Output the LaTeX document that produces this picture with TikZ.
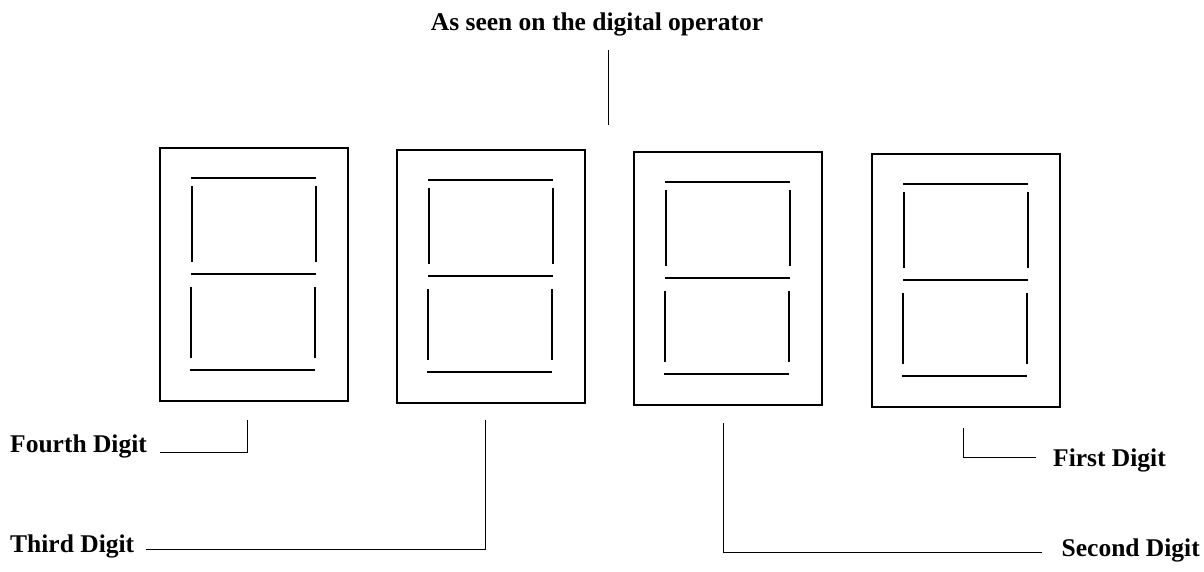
\documentclass[tikz,border=0pt]{standalone}
\usepackage{fontspec}
\setmainfont{Liberation Serif}
\begin{document}
\begin{tikzpicture}[x=1pt,y=-1pt,
  digitbox/.style={draw, line width=1.8pt, minimum width=188pt, minimum height=253pt, inner sep=0pt, anchor=north west},
  seg/.style={line width=1.4pt},
  conn/.style={line width=1pt},
  lbl/.style={font=\fontsize{25.5}{30}\selectfont\bfseries, inner sep=0pt}]
\useasboundingbox (0,0) rectangle (1204,571);
\newcommand\sevenseg[3]{%
  \node[digitbox] (#1) at (#2,#3) {};
  \draw[seg] ([shift={(32,31)}]#1.north west) -- ([shift={(-33,31)}]#1.north east);
  \draw[seg] ([shift={(32,127)}]#1.north west) -- ([shift={(-33,127)}]#1.north east);
  \draw[seg] ([shift={(31,223)}]#1.north west) -- ([shift={(-34,223)}]#1.north east);
  \draw[seg] ([shift={(33,39)}]#1.north west) -- ([shift={(33,115)}]#1.north west);
  \draw[seg] ([shift={(-33,39)}]#1.north east) -- ([shift={(-33,115)}]#1.north east);
  \draw[seg] ([shift={(32,140)}]#1.north west) -- ([shift={(32,211)}]#1.north west);
  \draw[seg] ([shift={(-34,140)}]#1.north east) -- ([shift={(-34,211)}]#1.north east);
}
\sevenseg{d4}{159}{147}
\sevenseg{d3}{396}{149}
\sevenseg{d2}{633}{151}
\sevenseg{d1}{871}{153}

\node[lbl, anchor=base] (top) at (597,30) {As seen on the digital operator};
\coordinate (topA) at (608,50);
\coordinate (topB) at (608,125);
\draw[conn] (topA) -- (topB);

\node[lbl, anchor=base west] (l4) at (10,452) {Fourth Digit};
\coordinate (c4a) at (247,420);
\coordinate (c4b) at (247,452);
\draw[conn] ([xshift=13]l4.east |- c4b) -- (c4b) -- (c4a);

\node[lbl, anchor=base west] (l3) at (10,552) {Third Digit};
\coordinate (c3a) at (485,420);
\coordinate (c3b) at (485,549);
\draw[conn] ([xshift=12]l3.east |- c3b) -- (c3b) -- (c3a);

\node[lbl, anchor=base east] (l2) at (1200,556) {Second Digit};
\coordinate (c2a) at (723,423);
\coordinate (c2b) at (723,552);
\draw[conn] (c2a) -- (c2b) -- ([xshift=-19]l2.west |- c2b);

\node[lbl, anchor=base west] (l1) at (1053,466) {First Digit};
\coordinate (c1a) at (963,428);
\coordinate (c1b) at (963,457);
\draw[conn] (c1a) -- (c1b) -- ([xshift=-17]l1.west |- c1b);
\end{tikzpicture}
\end{document}
